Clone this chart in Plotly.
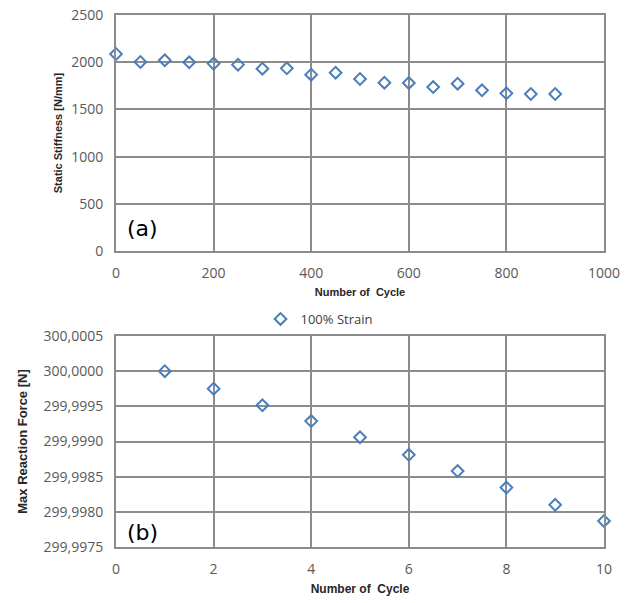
import plotly.graph_objects as go

# Panel (a)
cycles_a = [0, 50, 100, 150, 200, 250, 300, 350, 400, 450, 500, 550, 600, 650, 700, 750, 800, 850, 900]
stiffness = [2087, 2002, 2020, 1999, 1985, 1974, 1931, 1935, 1868, 1889, 1822, 1783, 1780, 1737, 1772, 1702, 1670, 1663, 1663]

# Panel (b)
cycles_b = [1, 2, 3, 4, 5, 6, 7, 8, 9, 10]
force = [300.0000, 299.99975, 299.999515, 299.99929, 299.99906, 299.99881, 299.99858, 299.998345, 299.99810, 299.99787]

ytick_b_vals = [299.9975, 299.9980, 299.9985, 299.9990, 299.9995, 300.0000, 300.0005]
ytick_b_text = ["299,9975", "299,9980", "299,9985", "299,9990", "299,9995", "300,0000", "300,0005"]

marker_color = "#4a7ebb"
grid_color = "#8c8c8c"
tick_font = dict(family="Open Sans, Liberation Sans, sans-serif", size=14, color="#595959")
title_font = dict(family="Liberation Sans, Arial, sans-serif", size=11, color="#262626")

fig = go.Figure()
fig.add_trace(go.Scatter(x=cycles_a, y=stiffness, mode="markers", xaxis="x", yaxis="y", cliponaxis=False,
                         marker=dict(symbol="diamond-open", size=9, color=marker_color, line=dict(width=2)),
                         showlegend=False))
fig.add_trace(go.Scatter(x=cycles_b, y=force, mode="markers", xaxis="x2", yaxis="y2", cliponaxis=False,
                         name="100% Strain",
                         marker=dict(symbol="diamond-open", size=9, color=marker_color, line=dict(width=2)),
                         showlegend=True))

W, H = 638, 603
xl, xr = 116 / W, 604 / W
axis_common = dict(showgrid=True, gridcolor=grid_color, gridwidth=2, showline=True, linecolor=grid_color,
                   linewidth=2, mirror=True, zeroline=False, tickfont=tick_font, automargin=False,
                   ticks="outside", ticklen=8, tickcolor="rgba(0,0,0,0)")

fig.update_layout(
    width=W, height=H, margin=dict(l=0, r=0, t=0, b=0, autoexpand=False),
    paper_bgcolor="white", plot_bgcolor="white",
    xaxis=dict(domain=[xl, xr], anchor="y", range=[0, 1000], tickvals=[0, 200, 400, 600, 800, 1000],
               title=dict(text="<b>Number of  Cycle</b>", font=title_font, standoff=8), **axis_common),
    yaxis=dict(domain=[1 - 251 / H, 1 - 15 / H], anchor="x", range=[0, 2500],
               tickvals=[0, 500, 1000, 1500, 2000, 2500],
               title=dict(text="<b>Static Stiffness [N/mm]</b>", font=title_font, standoff=6), **axis_common),
    xaxis2=dict(domain=[xl, xr], anchor="y2", range=[0, 10], tickvals=[0, 2, 4, 6, 8, 10],
                title=dict(text="<b>Number of  Cycle</b>", font=dict(title_font, size=12), standoff=8), **axis_common),
    yaxis2=dict(domain=[1 - 547 / H, 1 - 336 / H], anchor="x2", range=[299.9975, 300.0005],
                tickvals=ytick_b_vals, ticktext=ytick_b_text,
                title=dict(text="<b>Max Reaction Force [N]</b>", font=dict(title_font, size=13), standoff=13),
                **axis_common),
    legend=dict(x=0.5, xanchor="center", y=1 - 319 / H, yanchor="middle", orientation="h",
                font=dict(family="Open Sans, Liberation Sans, sans-serif", size=13, color="#404040"),
                itemwidth=30, bgcolor="rgba(0,0,0,0)"),
    annotations=[
        dict(text="(a)", x=125 / W, y=1 - 228 / H, xref="paper", yref="paper", xanchor="left",
             yanchor="middle", showarrow=False, font=dict(family="DejaVu Sans, sans-serif", size=22, color="black")),
        dict(text="(b)", x=125 / W, y=1 - 532 / H, xref="paper", yref="paper", xanchor="left",
             yanchor="middle", showarrow=False, font=dict(family="DejaVu Sans, sans-serif", size=22, color="black")),
    ],
)

fig.write_html("out.html", config={"displayModeBar": False},
               post_script="document.body.style.margin='0';document.body.style.padding='0';")
